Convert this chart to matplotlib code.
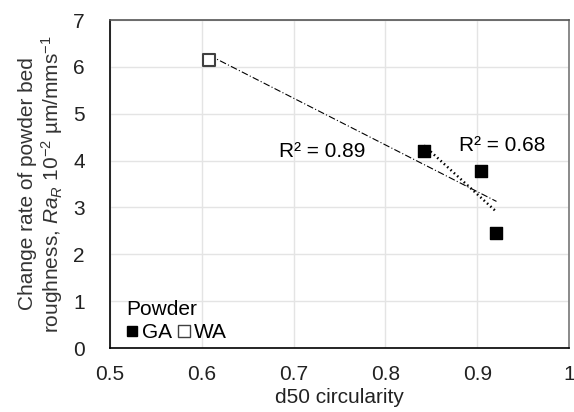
import numpy as np
import matplotlib.pyplot as plt
from matplotlib.lines import Line2D

plt.rcParams["font.family"] = ["Liberation Sans", "DejaVu Sans"]
plt.rcParams["mathtext.fontset"] = "custom"
plt.rcParams["mathtext.rm"] = "Liberation Sans"
plt.rcParams["mathtext.it"] = "Liberation Sans:italic"

# powder data (d50 circularity vs change rate of roughness)
ga_circ = [0.842, 0.904, 0.921]
ga_rate = [4.20, 3.78, 2.46]
wa_circ = [0.608]
wa_rate = [6.15]

all_circ = np.array(wa_circ + ga_circ)
all_rate = np.array(wa_rate + ga_rate)

FS = 15

fig = plt.figure(figsize=(5.74, 4.12), dpi=100)
ax = fig.add_axes([110 / 574, 1 - 348 / 412, 459 / 574, 328 / 412])

# linear trendlines, as in the spreadsheet original
p_all = np.polyfit(all_circ, all_rate, 1)
xs = np.array([all_circ.min(), all_circ.max()])
ax.plot(xs, np.polyval(p_all, xs), color="black", lw=0.8,
        linestyle=(0, (6, 2, 1, 2)), zorder=2)

p_ga = np.polyfit(ga_circ, ga_rate, 1)
xs2 = np.array([min(ga_circ), max(ga_circ)])
ax.plot(xs2, np.polyval(p_ga, xs2), color="black", lw=1.8,
        linestyle=(0, (0.6, 1.2)), zorder=2)

ax.scatter(ga_circ, ga_rate, marker="s", s=70, color="black", zorder=3)
ax.scatter(wa_circ, wa_rate, marker="s", s=70, facecolor="white",
           edgecolor="#404040", linewidth=1.5, zorder=3)

ax.text(0.731, 4.19, "R² = 0.89", fontsize=FS, ha="center", va="center")
ax.text(0.927, 4.32, "R² = 0.68", fontsize=FS, ha="center", va="center")

ax.set_xlim(0.5, 1.0)
ax.set_ylim(0, 7)
ax.set_xticks([0.5, 0.6, 0.7, 0.8, 0.9, 1.0])
ax.set_xticklabels(["0.5", "0.6", "0.7", "0.8", "0.9", "1"])
ax.set_yticks(range(0, 8))
ax.tick_params(length=0, labelsize=FS, colors="#222222")
ax.tick_params(axis="x", pad=12)
ax.tick_params(axis="y", pad=18)
ax.grid(True, color="#e4e4e4", lw=1)
ax.set_axisbelow(True)

ax.spines["left"].set_color("black")
ax.spines["bottom"].set_color("black")
ax.spines["top"].set_color("#555555")
ax.spines["right"].set_color("#777777")
for s in ax.spines.values():
    s.set_linewidth(1.2)

ax.set_xlabel("d50 circularity", fontsize=FS, color="#222222", labelpad=3)
ax.set_ylabel("Change rate of powder bed\nroughness, $Ra_R$ 10$^{-2}$ µm/mms$^{-1}$",
              fontsize=FS, color="#333333", labelpad=6, linespacing=1.1)

handles = [
    Line2D([], [], marker="s", color="black", linestyle="none", markersize=7.5),
    Line2D([], [], marker="s", markerfacecolor="white", markeredgecolor="#404040",
           linestyle="none", markersize=8),
]
leg = ax.legend(handles, ["GA", "WA"], title="Powder", loc="lower left", ncol=2,
                bbox_to_anchor=(0.018, -0.008),
                frameon=False, fontsize=FS, title_fontsize=FS, handlelength=0.5,
                handletextpad=0.25, columnspacing=0.3, borderaxespad=0.2,
                borderpad=0.2, labelspacing=0.2)
leg._legend_box.align = "left"

fig.savefig("out.png", dpi=100)
